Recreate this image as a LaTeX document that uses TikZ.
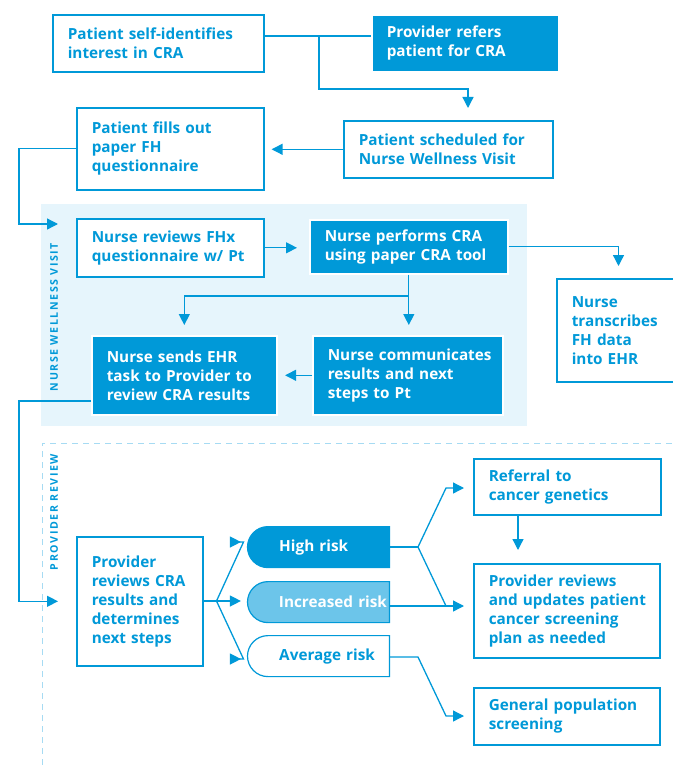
\documentclass[tikz,border=0pt]{standalone}
\usepackage{fontspec}
\setmainfont{Open Sans}
\usetikzlibrary{arrows.meta,shapes.misc}
\definecolor{cblue}{HTML}{0099D8}
\definecolor{lightbg}{HTML}{E6F5FC}
\definecolor{incfill}{HTML}{6CC5EA}
\definecolor{dashc}{HTML}{A6DBF3}
\newcommand\tl[1]{\mbox{#1}}
\begin{document}
\begin{tikzpicture}[x=1pt,y=-1pt,
  txt/.style={font=\bfseries\fontsize{15.3}{19}\selectfont},
  box/.style={txt, draw=cblue, line width=1.6pt, fill=white, text=cblue, anchor=north west, align=left, inner xsep=15pt, inner ysep=0pt},
  fbox/.style={box, fill=cblue, draw=white, text=white},
  risk/.style={txt, rounded rectangle, rounded rectangle right arc=none, draw=cblue, line width=1.2pt, anchor=north west, minimum width=142pt, minimum height=41pt, inner xsep=0pt, inner ysep=0pt, text width=116pt, align=left},
  conn/.style={draw=cblue, line width=1.3pt},
  arr/.style={conn, -{Triangle[length=11pt,width=11pt]}},
  lab/.style={rotate=90, text=cblue, font=\bfseries\fontsize{10.6}{12}\selectfont\addfontfeatures{LetterSpace=15}}
]
\useasboundingbox (0,0) rectangle (672,765);
% regions
\fill[lightbg] (40.7,204) rectangle (527,426);
\draw[dashc, line width=1pt, dash pattern=on 6pt off 5pt] (42,765) -- (42,443) -- (672,443);
\node[lab] (nwv) at (54,317) {NURSE WELLNESS VISIT};
\node[lab] (prv) at (54,512) {PROVIDER REVIEW};
% boxes
\node[box, minimum width=211pt, minimum height=57pt, text width=181pt] (A) at (52,14) {\tl{Patient self-identifies}\\\tl{interest in CRA}};
\node[fbox, minimum width=187pt, minimum height=57pt, text width=157pt] (B) at (371,14) {\tl{Provider refers}\\\tl{patient for CRA}};
\node[box, minimum width=209pt, minimum height=57pt, text width=179pt] (C) at (343,120) {\tl{Patient scheduled for}\\\tl{Nurse Wellness Visit}};
\node[box, minimum width=187pt, minimum height=82pt, text width=157pt] (D) at (76,107) {\tl{Patient fills out}\\\tl{paper FH}\\\tl{questionnaire}};
\node[box, minimum width=187pt, minimum height=58pt, text width=157pt] (E) at (76,218) {\tl{Nurse reviews FHx}\\\tl{questionnaire w/ Pt}};
\node[fbox, minimum width=198pt, minimum height=54pt, text width=168pt] (F) at (309,219) {\tl{Nurse performs CRA}\\\tl{using paper CRA tool}};
\node[box, minimum width=130pt, minimum height=103pt, text width=100pt] (G) at (556,278) {\tl{Nurse}\\\tl{transcribes}\\\tl{FH data}\\\tl{into EHR}};
\node[fbox, minimum width=185pt, minimum height=79pt, text width=155pt] (H) at (91,335) {\tl{Nurse sends EHR}\\\tl{task to Provider to}\\\tl{review CRA results}};
\node[fbox, minimum width=190pt, minimum height=79pt, text width=160pt] (I) at (312,335) {\tl{Nurse communicates}\\\tl{results and next}\\\tl{steps to Pt}};
\node[box, minimum width=126pt, minimum height=129pt, text width=96pt] (J) at (76,536) {\tl{Provider}\\\tl{reviews CRA}\\\tl{results and}\\\tl{determines}\\\tl{next steps}};
\node[risk, fill=cblue, text=white] (hi) at (268,526) {\tl{\hspace*{18pt}High risk}};
\node[risk, fill=incfill, text=white] (inc) at (268,581) {\tl{\hspace*{18pt}Increased risk}};
\node[risk, fill=white, text=cblue] (avg) at (268,635) {\tl{\hspace*{18pt}Average risk}};
\node[box, minimum width=187pt, minimum height=56pt, text width=157pt] (K) at (473,458) {\tl{Referral to}\\\tl{cancer genetics}};
\node[box, minimum width=186pt, minimum height=94pt, text width=156pt] (L) at (473,563) {\tl{Provider reviews}\\\tl{and updates patient}\\\tl{cancer screening}\\\tl{plan as needed}};
\node[box, minimum width=186pt, minimum height=57pt, text width=156pt] (M) at (473,687) {\tl{General population}\\\tl{screening}};
% connectors
\coordinate (j1) at (319,36);
\coordinate (lrail) at (19,0);
\coordinate (nwvIn) at (58,224);
\draw[conn] (A.east |- j1) -- (B.west |- j1);
\draw[arr, shorten >=12pt] (j1) -- (j1 |- 0,89) -| (C.north -| 468,0);
\draw[arr, shorten >=7pt] (C.west) -- (C.west -| D.east);
\draw[arr] (D.west) -- (D.west -| lrail) |- (nwvIn);
\draw[arr, shorten >=12pt] (E.east) -- (E.east -| F.west);
\draw[arr, shorten >=12pt] (F.east) -| (G.north -| 618.5,0);
\coordinate (j2) at (F.south |- 0,296);
\draw[conn] (F.south) -- (j2);
\draw[arr, shorten >=10pt] (j2) -- (j2 |- I.north);
\draw[arr, shorten >=10pt] (j2) -| (H.north);
\draw[arr, shorten >=7.5pt] (I.west) -- (I.west -| H.east);
\draw[arr, shorten >=18pt] (H.west |- 0,401) -- (lrail |- 0,401) |- (J.west);
\coordinate (j3) at (216.5,601);
\draw[conn] (J.east |- j3) -- (j3);
\draw[arr, shorten >=6pt] (j3) -- (243.5,542) -- (hi.west |- 0,542);
\draw[arr, shorten >=6pt] (j3) -- (inc.west |- j3);
\draw[arr, shorten >=6pt] (j3) -- (243.5,659) -- (avg.west |- 0,659);
\coordinate (j4) at (418,547);
\draw[conn] (hi.east |- j4) -- (j4);
\draw[arr, shorten >=9pt] (j4) -- (446,488) -- (K.west |- 0,488);
\draw[conn] (j4) -- (446,606);
\draw[arr, shorten >=9pt] (inc.east |- 0,606) -- (L.west |- 0,606);
\draw[arr, shorten >=9pt] (avg.east |- 0,657) -- (418,657) -- (446,716) -- (M.west |- 0,716);
\draw[arr, shorten >=13pt] (K.south -| 518,0) -- (L.north -| 518,0);
\end{tikzpicture}
\end{document}
